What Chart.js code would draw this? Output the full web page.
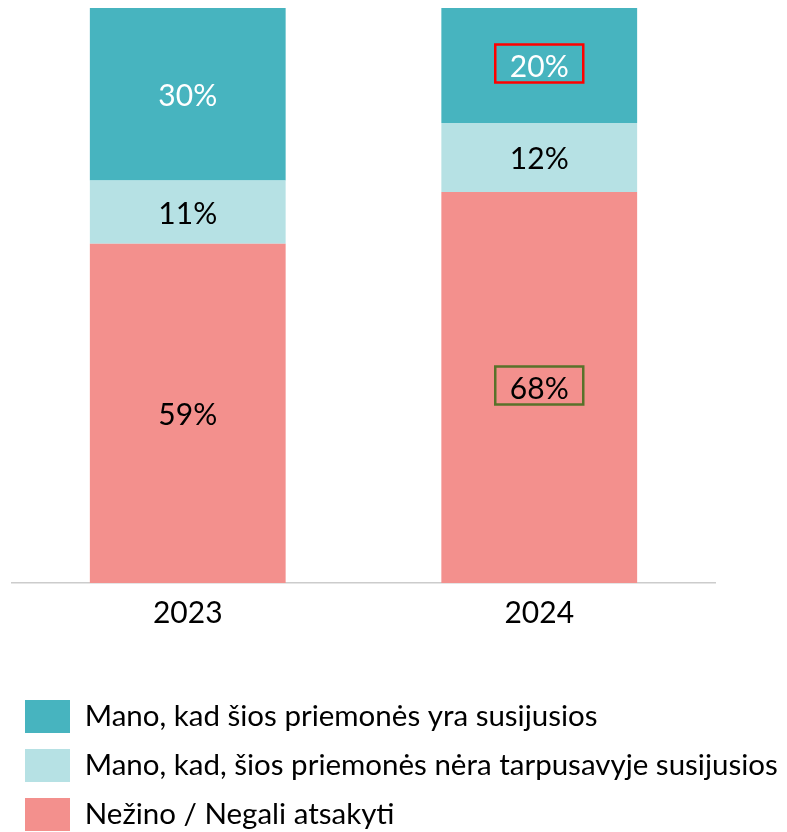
<!DOCTYPE html>
<html>
<head>
<meta charset="utf-8">
<script src="https://cdn.jsdelivr.net/npm/chart.js@4.4.1/dist/chart.umd.min.js"></script>
<style>
  html, body { margin: 0; padding: 0; background: #fff; overflow: hidden; }
  #wrap { width: 787px; height: 841px; }
</style>
</head>
<body>
<div id="wrap"><canvas id="chart" width="787" height="841"></canvas></div>
<script>
var years = ["2023", "2024"];
var seriesNames = [
  "Mano, kad šios priemonės yra susijusios",
  "Mano, kad, šios priemonės nėra tarpusavyje susijusios",
  "Nežino / Negali atsakyti"
];
var related = [30, 20];
var unrelated = [11, 12];
var unsure = [59, 68];

// outlined values: [datasetIndex, dataIndex, colour]
var highlights = [
  [2, 1, "#ff0000"],
  [0, 1, "#58722a"]
];

var FONT = "Lato";

var valueLabels = {
  id: "valueLabels",
  afterDatasetsDraw: function(chart) {
    var ctx = chart.ctx;
    ctx.save();
    ctx.font = "30px " + FONT;
    ctx.textAlign = "center";
    ctx.textBaseline = "middle";
    chart.data.datasets.forEach(function(ds, i) {
      var meta = chart.getDatasetMeta(i);
      meta.data.forEach(function(bar, j) {
        var p = bar.getCenterPoint();
        ctx.fillStyle = ds.labelColor;
        ctx.fillText(ds.data[j] + "%", p.x, p.y + 2);
      });
    });
    highlights.forEach(function(h) {
      var bar = chart.getDatasetMeta(h[0]).data[h[1]];
      var p = bar.getCenterPoint();
      ctx.strokeStyle = h[2];
      ctx.lineWidth = 2.5;
      ctx.strokeRect(p.x - 44, p.y - 21, 88, 38);
    });
    ctx.restore();
  }
};

// empty side axes just to reserve room around the plot area
function spacer(side, w) {
  return {
    position: side,
    display: true,
    grid: { display: false, drawTicks: false },
    border: { display: false },
    ticks: { display: false },
    afterFit: function(scale) { scale.width = w; }
  };
}

var ctx = document.getElementById("chart").getContext("2d");
var chart = new Chart(ctx, {
  type: "bar",
  data: {
    labels: years,
    datasets: [
      { label: seriesNames[2], data: unsure, backgroundColor: "#f3908d", labelColor: "#000" },
      { label: seriesNames[1], data: unrelated, backgroundColor: "#b6e1e4", labelColor: "#000" },
      { label: seriesNames[0], data: related, backgroundColor: "#47b4bf", labelColor: "#fff" }
    ]
  },
  options: {
    responsive: false,
    animation: false,
    layout: { padding: { left: 9, right: 0, top: 8, bottom: 0 } },
    datasets: {
      bar: { categoryPercentage: 1, barPercentage: 0.557, borderWidth: 0 }
    },
    scales: {
      x: {
        stacked: true,
        grid: { display: false, drawTicks: false },
        border: { color: "#cccccc", width: 1.5 },
        ticks: { color: "#000", font: { family: FONT, size: 30 }, padding: 12 },
        afterFit: function(scale) { scale.height = 101; }
      },
      y: {
        stacked: true,
        display: false,
        min: 0,
        max: 100
      },
      padL: spacer("left", 3),
      padR: spacer("right", 72)
    },
    plugins: {
      tooltip: { enabled: false },
      legend: {
        position: "bottom",
        align: "start",
        reverse: true,
        labels: {
          color: "#000",
          font: { family: FONT, size: 29.5 },
          boxWidth: 45,
          boxHeight: 33,
          padding: 16
        }
      }
    }
  },
  plugins: [valueLabels]
});
</script>
</body>
</html>
